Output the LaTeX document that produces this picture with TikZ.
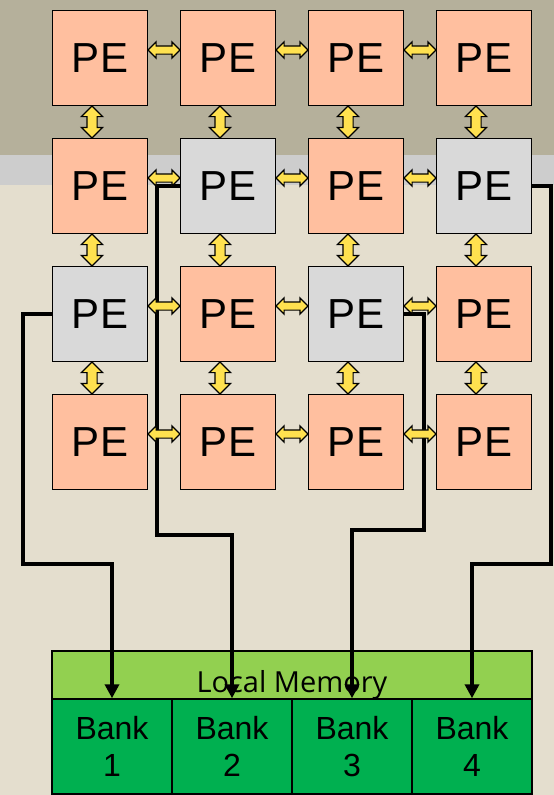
\documentclass[tikz,border=0pt]{standalone}
\usepackage{fontspec}
\setmainfont{Liberation Sans}
\newfontfamily\memfont{Open Sans}
\usetikzlibrary{arrows.meta, calc, shapes.arrows}
\definecolor{bgtop}{HTML}{B5B09B}
\definecolor{bgband}{HTML}{CDCDCD}
\definecolor{bgbase}{HTML}{E4DECE}
\definecolor{pebusy}{HTML}{FFBF9F}
\definecolor{peidle}{HTML}{D9D9D9}
\definecolor{linkfill}{HTML}{FFE14F}
\definecolor{memtop}{HTML}{92D050}
\definecolor{membank}{HTML}{00B050}
\tikzset{
  pe/.style    = {draw, line width=1.5pt, minimum size=95pt, inner sep=0pt,
                  font=\fontsize{42}{48}\selectfont},
  hlink/.style = {double arrow, draw, line width=1.2pt, fill=linkfill,
                  inner xsep=0pt, inner ysep=3.5pt, minimum height=32pt,
                  minimum width=15pt, double arrow head extend=4pt},
  vlink/.style = {hlink, rotate=90, inner ysep=4.5pt, minimum width=20pt,
                  double arrow head extend=5.5pt},
  lmem/.style  = {draw, line width=1.5pt, fill=memtop, inner sep=0pt,
                  minimum width=480pt, minimum height=48pt,
                  text height=34pt, text depth=0pt,
                  font=\memfont\fontsize{29}{34}\selectfont},
  bank/.style  = {draw, line width=1.5pt, fill=membank, inner sep=0pt,
                  minimum width=120pt, minimum height=95pt, align=center,
                  font=\fontsize{32}{37}\selectfont},
  wire/.style  = {line width=4pt, -{Triangle[length=14pt, width=14pt]}},
}

\begin{document}
\begin{tikzpicture}[x=1pt, y=-1pt]
    \fill[bgtop]  (0,0)   rectangle (554,155);
    \fill[bgband] (0,155) rectangle (554,185);
    \fill[bgbase] (0,185) rectangle (554,795);
    \useasboundingbox (0,0) rectangle (554,795);

    % PE array
    \foreach \r in {1,...,4}
      \foreach \c in {1,...,4} {
        \pgfmathtruncatemacro\idle{and(or(\r==2,\r==3), mod(\r+\c,2)==0)}
        \ifnum\idle=1 \def\pefill{peidle}\else\def\pefill{pebusy}\fi
        \node[pe, fill=\pefill] (pe\r\c) at ({100+128*(\c-1)}, {58+128*(\r-1)}) {PE};
      }

    % memory
    \node[lmem] (lm) at (292,675) {Local Memory};
    \foreach \i in {1,...,4}
      \node[bank] (bank\i) at ({112+120*(\i-1)}, 746.5) {Bank\\\i};

    \coordinate (w1) at (23,564);
    \coordinate (w2) at (157,535);
    \coordinate (w3) at (424,530);
    \coordinate (w4) at (551,564);
    \draw[wire] (pe31.west) -| (w1) -| (bank1.north);
    \draw[wire] (pe22.west) -| (w2) -| (bank2.north);
    \draw[wire] (pe33.east) -| (w3) -| (bank3.north);
    \draw[wire] (pe24.east) -| (w4) -| (bank4.north);

    % links between neighbours
    \foreach \r in {1,...,4}
      \foreach \a/\b in {1/2,2/3,3/4}
        \node[hlink] (h\r\a) at ($(pe\r\a.east)!0.5!(pe\r\b.west)+(0,-8)$) {};
    \foreach \a/\b in {1/2,2/3,3/4}
      \foreach \c in {1,...,4}
        \node[vlink] (v\a\c) at ($(pe\a\c.south)!0.5!(pe\b\c.north)+(-8,0)$) {};
\end{tikzpicture}
\end{document}
